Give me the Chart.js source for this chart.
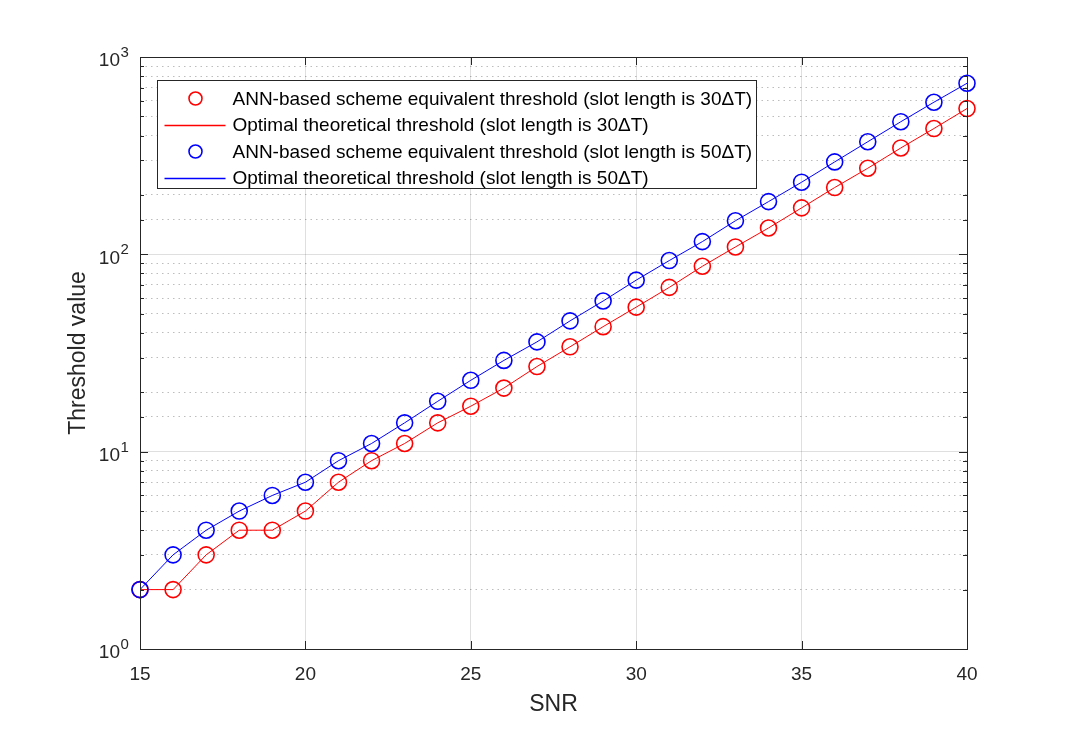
<!DOCTYPE html>
<html>
<head>
<meta charset="utf-8">
<script src="https://cdn.jsdelivr.net/npm/chart.js@4.4.0/dist/chart.umd.min.js"></script>
<style>
  html, body { margin: 0; padding: 0; background: #fff; }
  #wrap { width: 1069px; height: 730px; position: relative; }
</style>
</head>
<body>
<div id="wrap"><canvas id="myChart"></canvas></div>
<script>
// SNR-verdier (x-akse)
const snr = [15, 16, 17, 18, 19, 20, 21, 22, 23, 24, 25, 26, 27, 28, 29, 30, 31, 32, 33, 34, 35, 36, 37, 38, 39, 40];

// Terskelverdier, lest av figuren
const ann30 = [2, 2, 3, 4, 4, 5, 7, 9, 11, 14, 17, 21, 27, 34, 43, 54, 68, 87, 109, 136, 172, 218, 273, 346, 434, 548];
const opt30 = [2, 2, 3, 4, 4, 5, 7, 9, 11, 14, 17, 21, 27, 34, 43, 54, 68, 87, 109, 136, 172, 218, 273, 346, 434, 548];
const ann50 = [2, 3, 4, 5, 6, 7, 9, 11, 14, 18, 23, 29, 36, 46, 58, 74, 93, 116, 148, 185, 232, 294, 372, 470, 590, 736];
const opt50 = [2, 3, 4, 5, 6, 7, 9, 11, 14, 18, 23, 29, 36, 46, 58, 74, 93, 116, 148, 185, 232, 294, 372, 470, 590, 736];

// Akseetiketter
const xTicks = [15, 20, 25, 30, 35, 40];
const yExponents = [0, 1, 2, 3];

const labels = [
    'ANN-based scheme equivalent threshold (slot length is 30\u0394T)',
    'Optimal theoretical threshold (slot length is 30\u0394T)',
    'ANN-based scheme equivalent threshold (slot length is 50\u0394T)',
    'Optimal theoretical threshold (slot length is 50\u0394T)'
];

const RED = '#ff0000';
const BLUE = '#0000ff';
const FONT = '"Liberation Sans", Arial, Helvetica, sans-serif';
const AXIS = '#262626';

function pts(values) {
    return snr.map((s, i) => ({ x: s, y: values[i] }));
}

function isDecade(v) {
    const l = Math.log10(v);
    return Math.abs(l - Math.round(l)) < 1e-9;
}

// Tegner boks, innvendige tick-merker, y-etiketter og legende
const matlabAxes = {
    id: 'matlabAxes',
    afterDraw(chart) {
        const { ctx, chartArea: a, scales: { x, y } } = chart;
        ctx.save();

        // tick-merker innover
        ctx.strokeStyle = AXIS;
        ctx.lineWidth = 1;
        ctx.beginPath();
        xTicks.forEach(v => {
            const px = Math.round(x.getPixelForValue(v)) + 0.5;
            ctx.moveTo(px, a.bottom); ctx.lineTo(px, a.bottom - 8);
            ctx.moveTo(px, a.top); ctx.lineTo(px, a.top + 8);
        });
        y.ticks.forEach(t => {
            const len = isDecade(t.value) ? 8 : 4;
            const py = Math.round(y.getPixelForValue(t.value)) + 0.5;
            ctx.moveTo(a.left, py); ctx.lineTo(a.left + len, py);
            ctx.moveTo(a.right, py); ctx.lineTo(a.right - len, py);
        });
        ctx.stroke();

        // boks
        ctx.strokeRect(Math.round(a.left) + 0.5, Math.round(a.top) + 0.5,
            Math.round(a.right) - Math.round(a.left), Math.round(a.bottom) - Math.round(a.top));

        // y-etiketter 10^n
        ctx.fillStyle = AXIS;
        ctx.textBaseline = 'middle';
        yExponents.forEach(e => {
            const py = y.getPixelForValue(Math.pow(10, e));
            ctx.font = '19px ' + FONT;
            ctx.textAlign = 'right';
            ctx.fillText('10', 120, py + 4);
            ctx.font = '15px ' + FONT;
            ctx.textAlign = 'left';
            ctx.fillText(String(e), 120.5, py - 4);
        });

        // legende
        const left = Math.round(a.left) + 17.5;
        const top = Math.round(a.top) + 23.5;
        const textX = left + 75;
        ctx.font = '19px ' + FONT;
        let maxW = 0;
        chart.data.datasets.forEach(ds => { maxW = Math.max(maxW, ctx.measureText(ds.label).width); });
        const w = Math.round(textX - left + maxW + 4);
        const rowH = 26.5;
        const h = 108;
        ctx.fillStyle = '#fff';
        ctx.fillRect(left, top, w, h);
        ctx.lineWidth = 1;
        ctx.strokeStyle = AXIS;
        ctx.strokeRect(left, top, w, h);

        const legendColors = [RED, RED, BLUE, BLUE];
        chart.data.datasets.forEach((ds, i) => {
            const cy = top + 18 + i * rowH;
            const col = legendColors[i];
            if (ds.showLine === false) {
                ctx.beginPath();
                ctx.lineWidth = 1.6;
                ctx.strokeStyle = col;
                ctx.arc(left + 38, cy, 6.5, 0, Math.PI * 2);
                ctx.stroke();
            } else {
                const ly = Math.round(cy) + 0.5;
                ctx.beginPath();
                ctx.lineWidth = 1.3;
                ctx.strokeStyle = col;
                ctx.moveTo(left + 7, ly);
                ctx.lineTo(left + 68, ly);
                ctx.stroke();
            }
            ctx.fillStyle = '#000';
            ctx.textAlign = 'left';
            ctx.textBaseline = 'middle';
            ctx.fillText(ds.label, textX, cy + 1);
        });

        ctx.restore();
    }
};

const markerSet = (label, values, color, order) => ({
    label: label,
    data: pts(values),
    showLine: false,
    pointStyle: 'circle',
    pointRadius: 8,
    pointBorderWidth: 1.6,
    pointBorderColor: color,
    pointBackgroundColor: 'rgba(0,0,0,0)',
    borderColor: color,
    clip: false,
    order: order
});

const lineSet = (label, values, color, order) => ({
    label: label,
    data: pts(values),
    showLine: true,
    borderColor: color,
    borderWidth: 1,
    pointRadius: 0,
    tension: 0,
    fill: false,
    order: order
});

const chart = new Chart(document.getElementById('myChart'), {
    type: 'line',
    data: {
        datasets: [
            markerSet(labels[0], ann30, RED, 3),
            lineSet(labels[1], opt30, RED, 4),
            markerSet(labels[2], ann50, BLUE, 1),
            lineSet(labels[3], opt50, BLUE, 2)
        ]
    },
    options: {
        responsive: true,
        maintainAspectRatio: false,
        animation: false,
        events: [],
        layout: { padding: { left: 0, right: 102, top: 57, bottom: 0 } },
        plugins: {
            legend: { display: false },
            tooltip: { enabled: false }
        },
        scales: {
            x: {
                type: 'linear',
                min: 15,
                max: 40,
                afterBuildTicks: (scale) => { scale.ticks = xTicks.map(v => ({ value: v })); },
                afterFit: (scale) => { scale.height = 81; },
                ticks: {
                    color: AXIS,
                    font: { family: FONT, size: 19 },
                    padding: 14,
                    maxRotation: 0
                },
                grid: { color: 'rgba(38,38,38,0.15)', lineWidth: 1, drawTicks: false },
                border: { display: false },
                title: {
                    display: true,
                    text: 'SNR',
                    color: AXIS,
                    font: { family: FONT, size: 23 },
                    padding: { top: 0, bottom: 12 }
                }
            },
            y: {
                type: 'logarithmic',
                min: 1,
                max: 1000,
                afterFit: (scale) => { scale.width = 140; },
                ticks: {
                    autoSkip: false,
                    callback: () => '',
                    padding: 0
                },
                grid: {
                    drawTicks: false,
                    lineWidth: 1,
                    color: (c) => (c.tick && !isDecade(c.tick.value)) ? 'rgba(38,38,38,0.3)' : 'rgba(38,38,38,0.15)'
                },
                border: {
                    display: false,
                    dash: (c) => (c.tick && !isDecade(c.tick.value)) ? [1.5, 4] : []
                },
                title: {
                    display: true,
                    text: 'Threshold value',
                    color: AXIS,
                    font: { family: FONT, size: 23 },
                    padding: { top: 65, bottom: 0 }
                }
            }
        }
    },
    plugins: [matlabAxes]
});
</script>
</body>
</html>
